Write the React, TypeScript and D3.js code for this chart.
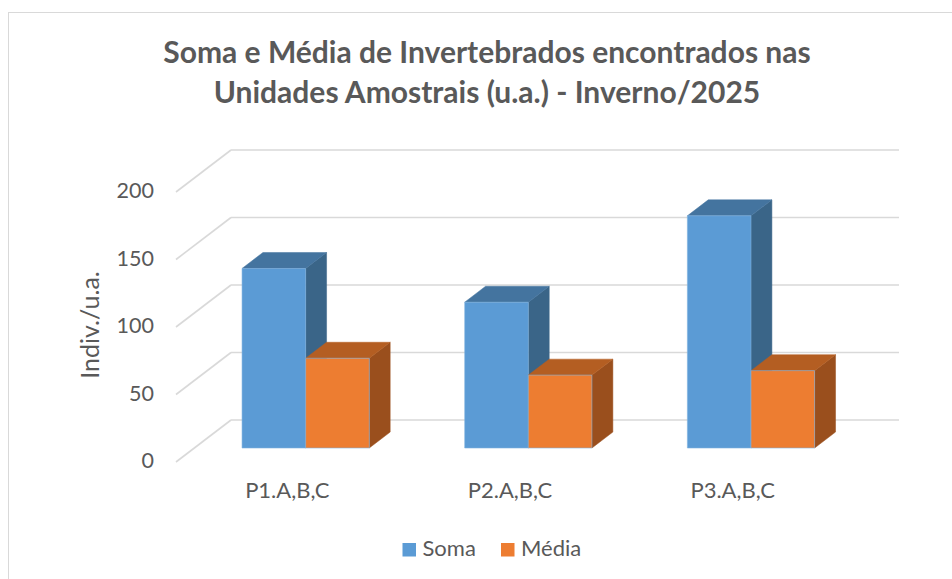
import React from "react";
import * as d3 from "d3";

const categories = ["P1.A,B,C", "P2.A,B,C", "P3.A,B,C"];
const seriesNames = ["Soma", "Média"];
const soma = [133, 108, 172];
const media = [66.5, 54, 57.3];
const yTicks = [0, 50, 100, 150, 200];
const titleLines = [
  "Soma e Média de Invertebrados encontrados nas",
  "Unidades Amostrais (u.a.) - Inverno/2025",
];
const axisTitle = "Indiv./u.a.";

const colors: Record<string, { front: string; top: string; side: string }> = {
  Soma: { front: "#5B9BD5", top: "#44749F", side: "#3A6588" },
  "Média": { front: "#ED7D31", top: "#B45E22", side: "#9A4F1D" },
};

const FONT = "Lato, 'Open Sans', sans-serif";
const TXT = "#595959";
const GRID = "#d9d9d9";

export default function App() {
  const W = 952;
  const H = 579;
  const frontLeft = 176;
  const frontRight = 844;
  const depth = { dx: 55, dy: -42 };
  const barFront = 1 / 3;
  const barDepth = 0.38;

  const x0 = d3.scaleBand<string>().domain(categories).range([frontLeft, frontRight]).padding(0);
  const bw = x0.bandwidth() / 3.5;
  const x1 = d3.scaleBand<string>().domain(seriesNames).range([0.75 * bw, 2.75 * bw]).padding(0);
  const y = d3.scaleLinear().domain([0, 200]).range([462, 192]);

  const values: Record<string, number[]> = { Soma: soma, "Média": media };

  const fdx = depth.dx * barFront;
  const fdy = depth.dy * barFront;
  const bdx = depth.dx * barDepth;
  const bdy = depth.dy * barDepth;

  const bars: React.ReactNode[] = [];
  categories.forEach((c, i) => {
    seriesNames.forEach((s) => {
      const v = values[s][i];
      const xl = (x0(c) as number) + (x1(s) as number) + fdx;
      const xr = xl + x1.bandwidth();
      const yb = y(0) + fdy;
      const yt = y(v) + fdy;
      const col = colors[s];
      const front = `M${xl},${yb}L${xl},${yt}L${xr},${yt}L${xr},${yb}Z`;
      const top = `M${xl},${yt}L${xl + bdx},${yt + bdy}L${xr + bdx},${yt + bdy}L${xr},${yt}Z`;
      const side = `M${xr},${yt}L${xr + bdx},${yt + bdy}L${xr + bdx},${yb + bdy}L${xr},${yb}Z`;
      bars.push(
        <g key={`${c}-${s}`}>
          <path d={side} fill={col.side} stroke={col.side} strokeWidth={0.5} />
          <path d={top} fill={col.top} stroke={col.top} strokeWidth={0.5} />
          <path d={front} fill={col.front} stroke="#7fb1df" strokeWidth={0.6} />
        </g>
      );
    });
  });

  const legendItems = [
    { name: "Soma", sx: 402.5, tx: 422.5 },
    { name: "Média", sx: 501, tx: 521 },
  ];

  return (
    <svg width={W} height={H} style={{ position: "absolute", left: 0, top: 0, background: "#fff" }}>
      <rect x={8.5} y={12.5} width={1000} height={700} fill="#fff" stroke={GRID} strokeWidth={1} />
      {titleLines.map((t, i) => (
        <text key={i} x={487} y={63 + i * 39.5} textAnchor="middle" fontFamily={FONT} fontWeight={700} fontSize={30} fill={TXT}>
          {t}
        </text>
      ))}
      {yTicks.map((t) => (
        <g key={t}>
          <line x1={frontLeft} y1={y(t)} x2={frontLeft + depth.dx} y2={y(t) + depth.dy} stroke={GRID} strokeWidth={1.6} />
          <line x1={frontLeft + depth.dx} y1={y(t) + depth.dy} x2={frontRight + depth.dx} y2={y(t) + depth.dy} stroke={GRID} strokeWidth={1.6} />
          <text x={154} y={y(t) + 1} textAnchor="end" dominantBaseline="middle" fontFamily={FONT} fontSize={21.5} fill={TXT}>
            {t}
          </text>
        </g>
      ))}
      <text transform={`translate(93,325) rotate(-90)`} textAnchor="middle" dominantBaseline="middle" fontFamily={FONT} fontSize={25} fill={TXT}>
        {axisTitle}
      </text>
      {bars}
      {categories.map((c) => (
        <text key={c} x={(x0(c) as number) + x0.bandwidth() / 2} y={492} textAnchor="middle" dominantBaseline="middle" fontFamily={FONT} fontSize={22} fill={TXT}>
          {c}
        </text>
      ))}
      {legendItems.map((l) => (
        <g key={l.name}>
          <rect x={l.sx} y={543} width={13.5} height={13.5} fill={colors[l.name].front} />
          <text x={l.tx} y={550} dominantBaseline="middle" fontFamily={FONT} fontSize={22} fill={TXT}>
            {l.name}
          </text>
        </g>
      ))}
    </svg>
  );
}
